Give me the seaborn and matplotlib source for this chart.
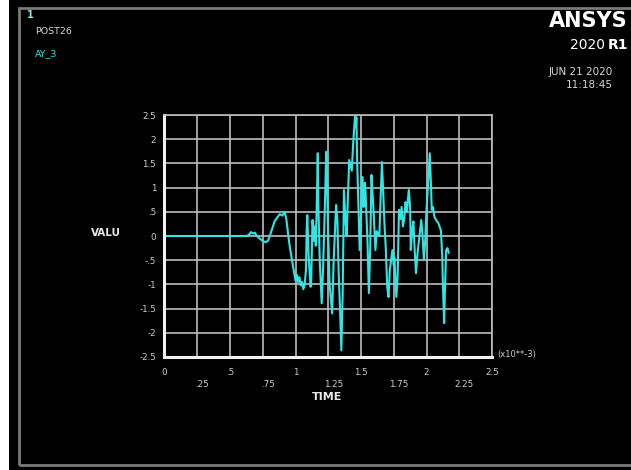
import matplotlib
matplotlib.use("Agg")
import matplotlib.pyplot as plt
import matplotlib.patches as mpatches
import pandas as pd
import seaborn as sns

# Time history of AY_3 (time in units of 1e-3 s)
time = [0.00, 0.63, 0.65, 0.66, 0.68, 0.69, 0.70, 0.73, 0.75, 0.77,
        0.79, 0.81, 0.84, 0.86, 0.88, 0.90, 0.916, 0.93, 0.95, 0.97,
        0.99, 1.00, 1.01, 1.02, 1.03, 1.04, 1.05, 1.06, 1.07, 1.08,
        1.085, 1.09, 1.10, 1.115, 1.12, 1.13, 1.14, 1.15, 1.155, 1.165,
        1.17, 1.175, 1.185, 1.20, 1.21, 1.22, 1.235, 1.24, 1.25, 1.26,
        1.28, 1.29, 1.31, 1.32, 1.33, 1.34, 1.35, 1.36, 1.37, 1.38,
        1.39, 1.40, 1.41, 1.43, 1.44, 1.455, 1.46, 1.465, 1.47, 1.49,
        1.50, 1.51, 1.515, 1.52, 1.53, 1.535, 1.55, 1.56, 1.57, 1.58,
        1.585, 1.60, 1.61, 1.62, 1.64, 1.65, 1.66, 1.665, 1.68, 1.69,
        1.70, 1.71, 1.72, 1.74, 1.75, 1.755, 1.77, 1.78, 1.79, 1.80,
        1.81, 1.82, 1.83, 1.84, 1.85, 1.865, 1.875, 1.88, 1.89, 1.90,
        1.91, 1.92, 1.93, 1.94, 1.95, 1.96, 1.97, 1.98, 1.99, 2.00,
        2.015, 2.025, 2.035, 2.04, 2.05, 2.06, 2.08, 2.09, 2.11, 2.12,
        2.125, 2.13, 2.135, 2.14, 2.15, 2.16, 2.17]
value = [0.00, 0.00, 0.04, 0.08, 0.05, 0.07, 0.02, -0.06, -0.10, -0.13,
         -0.10, 0.05, 0.30, 0.38, 0.45, 0.42, 0.50, 0.35, -0.10, -0.45,
         -0.77, -0.92, -0.80, -0.95, -0.85, -1.02, -0.95, -1.10, -1.00, -0.70,
         0.10, 0.43, -0.40, -1.05, -0.90, 0.33, -0.10, 0.20, -0.20, 1.00,
         1.71, 0.60, -0.50, -1.39, -0.70, 0.20, 1.74, 1.20, 0.00, -1.00,
         -1.60, -0.60, 0.64, 0.30, -0.80, -1.50, -2.36, -1.20, 0.95, 0.40,
         0.00, 0.80, 1.57, 1.35, 1.90, 2.50, 2.25, 2.45, 1.60, -0.29,
         0.40, 1.22, 0.85, 0.60, 1.10, 0.90, -0.15, -1.18, -0.30, 1.26,
         1.05, 0.30, -0.29, 0.10, 0.00, 0.80, 1.53, 1.20, 0.20, -0.29,
         -1.05, -1.26, -0.70, -0.29, -0.60, -0.45, -1.26, -0.80, 0.54, 0.35,
         0.60, 0.20, 0.35, 0.70, 0.50, 0.95, 0.60, -0.29, 0.10, 0.30,
         -0.30, -0.77, -0.40, -0.15, 0.10, 0.33, 0.00, -0.50, -0.10, 0.54,
         1.20, 1.71, 1.00, 0.54, 0.60, 0.40, 0.30, 0.27, 0.12, -0.40,
         -0.98, -1.40, -1.80, -1.20, -0.29, -0.25, -0.35]

x_ticks_row1 = [0, 0.5, 1, 1.5, 2, 2.5]
x_labels_row1 = ["0", ".5", "1", "1.5", "2", "2.5"]
x_ticks_row2 = [0.25, 0.75, 1.25, 1.75, 2.25]
x_labels_row2 = [".25", ".75", "1.25", "1.75", "2.25"]
y_ticks = [2.5, 2, 1.5, 1, 0.5, 0, -0.5, -1, -1.5, -2, -2.5]
y_labels = ["2.5", "2", "1.5", "1", ".5", "0", "-.5", "-1", "-1.5", "-2", "-2.5"]

df = pd.DataFrame({"TIME": time, "VALU": value})

sns.set_theme(style="dark", rc={
    "axes.facecolor": "black",
    "figure.facecolor": "white",
    "grid.color": "#bdbdbd",
    "grid.linewidth": 1.2,
})
plt.rcParams["font.family"] = ["DejaVu Sans"]

fig = plt.figure(figsize=(6.31, 4.70), dpi=100)

# graphics window: black panel with grey frame
fig.patches.append(mpatches.Rectangle((9 / 631, 0), 1, 1, transform=fig.transFigure,
                                      facecolor="black", edgecolor="none", zorder=-2))
fig.patches.append(mpatches.Rectangle((19 / 631, 5 / 470), 1, 1 - 13 / 470,
                                      transform=fig.transFigure, facecolor="none",
                                      edgecolor="#7a7a7a", linewidth=2.0, zorder=-1))

ax = fig.add_axes([164.5 / 631, 1 - 357 / 470, 327.5 / 631, 242 / 470])
sns.lineplot(data=df, x="TIME", y="VALU", ax=ax, color="#2ee6e6", linewidth=1.5,
             estimator=None, sort=False)

ax.set_xlim(0, 2.5)
ax.set_ylim(-2.5, 2.5)
ax.set_xticks([0, 0.25, 0.5, 0.75, 1, 1.25, 1.5, 1.75, 2, 2.25, 2.5])
ax.set_yticks(y_ticks)
ax.set_xticklabels([])
ax.set_yticklabels(y_labels, fontsize=6.3, color="#d0d0d0")
ax.tick_params(axis="y", length=0, pad=6)
ax.tick_params(axis="x", length=0)
ax.grid(True, color="#bdbdbd", linewidth=1.2)
ax.set_xlabel("")
ax.set_ylabel("")
for side in ["top", "right"]:
    ax.spines[side].set_color("#bdbdbd")
    ax.spines[side].set_linewidth(1.2)
    ax.spines[side].set_visible(True)
for side in ["left", "bottom"]:
    ax.spines[side].set_color("#f0f0f0")
    ax.spines[side].set_linewidth(2.2)
    ax.spines[side].set_visible(True)

# staggered time labels
trans = ax.get_xaxis_transform()
for t, lab in zip(x_ticks_row1, x_labels_row1):
    ax.text(t, -0.065, lab, transform=trans, ha="center", va="center",
            fontsize=6.3, color="#d0d0d0")
for t, lab in zip(x_ticks_row2, x_labels_row2):
    ax.text(t + 0.04, -0.115, lab, transform=trans, ha="center", va="center",
            fontsize=6.3, color="#d0d0d0")

fig.text(327 / 631, 1 - 397 / 470, "TIME", ha="center", va="center",
         fontsize=8, fontweight="bold", color="#e8e8e8")
fig.text(106 / 631, 1 - 233 / 470, "VALU", ha="center", va="center",
         fontsize=7.5, fontweight="bold", color="#e8e8e8")
fig.text(497 / 631, 1 - 355 / 470, "(x10**-3)", ha="left", va="center",
         fontsize=6, color="#d0d0d0")

# window header
fig.text(27 / 631, 1 - 15 / 470, "1", ha="left", va="center",
         fontsize=7, fontweight="bold", color="#7fe8e0")
fig.text(35 / 631, 1 - 32 / 470, "POST26", ha="left", va="center",
         fontsize=6.8, color="#d8d8d8")
fig.text(35 / 631, 1 - 54 / 470, "AY_3", ha="left", va="center",
         fontsize=6.8, color="#2ee6e6")
fig.text(628 / 631, 1 - 21 / 470, "ANSYS", ha="right", va="center",
         fontsize=15, fontweight="bold", color="white")
fig.text(605 / 631, 1 - 45 / 470, "2020", ha="right", va="center",
         fontsize=10, color="white")
fig.text(628 / 631, 1 - 45 / 470, "R1", ha="right", va="center",
         fontsize=10, fontweight="bold", color="white")
fig.text(613 / 631, 1 - 72 / 470, "JUN 21 2020", ha="right", va="center",
         fontsize=7.5, color="#d8d8d8")
fig.text(613 / 631, 1 - 85 / 470, "11:18:45", ha="right", va="center",
         fontsize=7.5, color="#d8d8d8")

fig.savefig("out.png", dpi=100)
